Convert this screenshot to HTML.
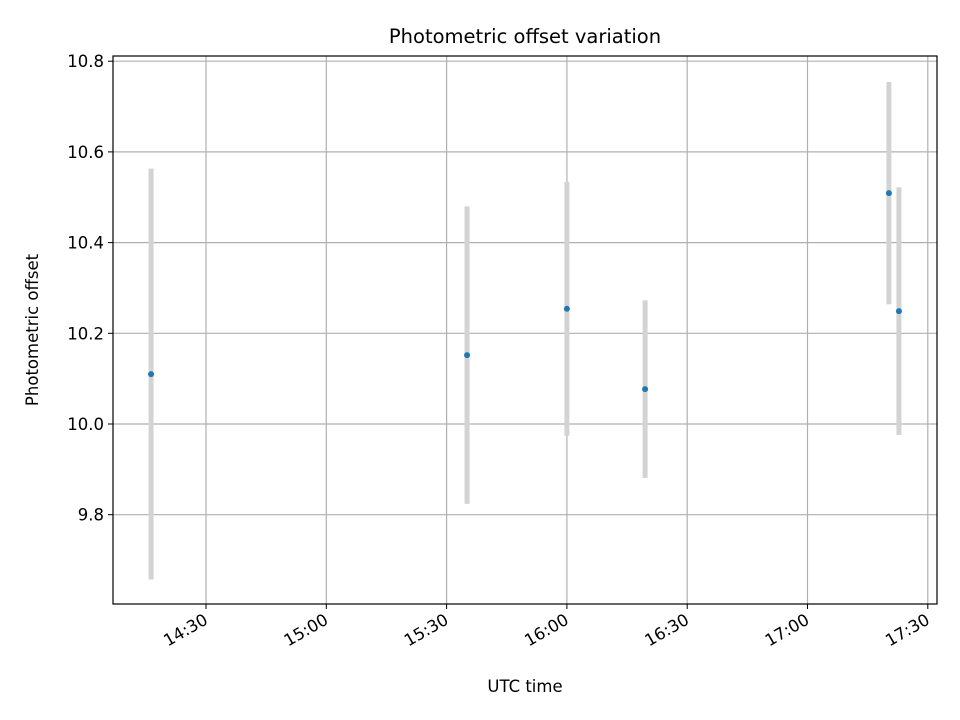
<!DOCTYPE html>
<html><head><meta charset="utf-8"><style>
body{margin:0;background:#fff}
svg{display:block;font-family:"DejaVu Sans","Liberation Sans",sans-serif}
</style></head><body>
<svg id="chart" width="960" height="720">
<rect width="960" height="720" fill="#fff"/>
<text x="525" y="43" font-size="19.5" text-anchor="middle">Photometric offset variation</text>
<text x="525" y="692" font-size="16.5" text-anchor="middle">UTC time</text>
<text transform="translate(38,330) rotate(-90)" font-size="16.5" text-anchor="middle">Photometric offset</text>
<g id="grid"></g><g id="marks"></g><g id="axes"></g>
</svg>
<script>
const times = ["14:16.3","15:35.1","16:00.0","16:19.5","17:20.3","17:22.8"];
const offsets = [10.110, 10.152, 10.254, 10.077, 10.509, 10.249];
const errors = [0.453, 0.328, 0.280, 0.196, 0.245, 0.273];
const yTicks = [9.8, 10.0, 10.2, 10.4, 10.6, 10.8];
const xTickLabels = ["14:30","15:00","15:30","16:00","16:30","17:00","17:30"];
const L=113,R=937,T=56,B=604;
const NS="http://www.w3.org/2000/svg";
function mins(s){const [h,m]=s.split(":");return +h*60+parseFloat(m);}
function xs(s){return 206+(mins(s)-mins("14:30"))*4.01;}
function ys(v){return 424-(v-10)*453.5;}
function mk(tag,attrs,parent){const e=document.createElementNS(NS,tag);for(const k in attrs)e.setAttribute(k,attrs[k]);document.getElementById(parent).appendChild(e);return e;}
yTicks.forEach(v=>{const y=ys(v);
 const g=mk("line",{x1:L,x2:R,y1:y,y2:y,stroke:"#b0b0b0","stroke-width":1.2},"grid");
 
 
 const t=mk("line",{x1:L-5,x2:L,y1:y,y2:y,stroke:"#000"},"axes");
 
 
 const l=mk("text",{x:L-9,y:y+6,"font-size":16.5,"text-anchor":"end"},"axes");
 l.textContent=v.toFixed(1);
 
 
});
xTickLabels.forEach(s=>{const x=xs(s);
 const g=mk("line",{x1:x,x2:x,y1:T,y2:B,stroke:"#b0b0b0","stroke-width":1.2},"grid");
 
 
 const t=mk("line",{x1:x,x2:x,y1:B,y2:B+5,stroke:"#000"},"axes");
 
 
 const l=mk("text",{transform:`translate(${x+3},${B+19}) rotate(-30)`,"font-size":16.5,"text-anchor":"end"},"axes");
 l.textContent=s;
 
 
});
times.forEach((s,i)=>{const x=xs(s);
 const e=mk("line",{x1:x,x2:x,y1:ys(offsets[i]+errors[i]),y2:ys(offsets[i]-errors[i]),stroke:"#d3d3d3","stroke-width":5},"marks");
 
 
});
times.forEach((s,i)=>{
 const c=mk("circle",{cx:xs(s),cy:ys(offsets[i]),r:3,fill:"#1f77b4"},"marks");
 
 
});
const f=mk("rect",{x:L,y:T,width:R-L,height:B-T,fill:"none",stroke:"#000","stroke-width":1.2},"axes");


</script>
</body></html>
